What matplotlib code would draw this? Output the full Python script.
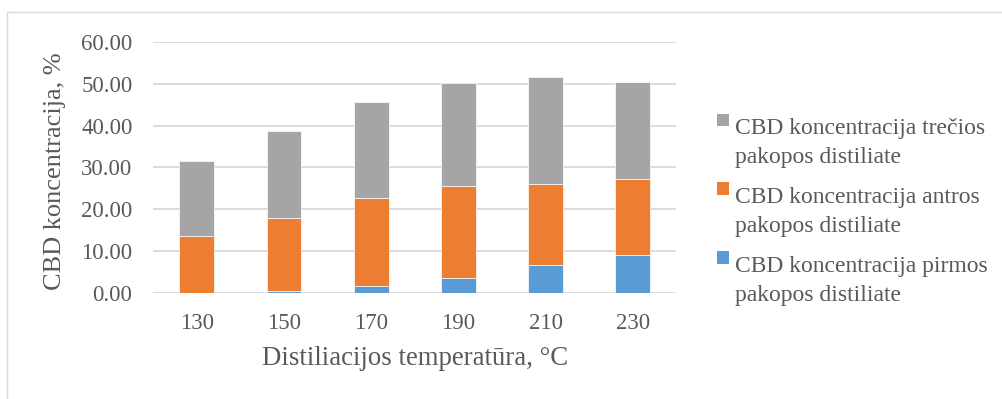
import numpy as np
import matplotlib.pyplot as plt
from matplotlib.patches import Rectangle
from matplotlib.legend_handler import HandlerBase

# duomenys (nuskaityta is paveikslo)
temperatures = ['130', '150', '170', '190', '210', '230']
pirmos = [0.1, 0.55, 1.7, 3.6, 6.8, 9.1]
antros = [13.6, 17.35, 21.0, 22.1, 19.2, 18.1]
trecios = [17.9, 20.7, 22.8, 24.4, 25.5, 23.3]

series_names = ['CBD koncentracija pirmos\npakopos distiliate',
                'CBD koncentracija antros\npakopos distiliate',
                'CBD koncentracija trečios\npakopos distiliate']
colors = ['#5B9BD5', '#ED7D31', '#A5A5A5']
text_col = '#595959'

plt.rcParams['font.family'] = ['Liberation Serif', 'DejaVu Serif']

LEG_FS = 17
LINESP = 1.5


class TopSquare(HandlerBase):
    # kvadratelis prie pirmos teksto eilutes (kaip Excel'yje)
    def create_artists(self, legend, orig_handle, xdescent, ydescent,
                       width, height, fontsize, trans):
        s = 0.52 * fontsize
        step = 0.7 * fontsize * LINESP
        fc = orig_handle.patches[0].get_facecolor()
        r = Rectangle((-xdescent, -ydescent + step + 0.3), s, s,
                      facecolor=fc, edgecolor='none', transform=trans)
        return [r]


fig = plt.figure(figsize=(10.03, 3.99), dpi=100)
ax = fig.add_axes([0.1528, 0.265, 0.5215, 0.6305])

# remelis aplink diagrama
fig.patches.append(Rectangle((7 / 1003, -0.1), 1.2, 1.1 - 12 / 399,
                             transform=fig.transFigure, fill=False,
                             edgecolor='#D9D9D9', linewidth=1.0))

x = np.arange(len(temperatures))
bottom = np.zeros(len(x))
bars = []
for vals, name, c in zip([pirmos, antros, trecios], series_names, colors):
    b = ax.bar(x, vals, width=0.4, bottom=bottom, color=c, label=name,
               edgecolor='white', linewidth=0.5, zorder=3)
    bars.append(b)
    bottom = bottom + np.array(vals)

ax.set_xlim(-0.5, len(x) - 0.5)
ax.set_ylim(0, 60)
ax.set_yticks(np.arange(0, 61, 10))
ax.set_yticklabels([f'{v:.2f}' for v in np.arange(0, 61, 10)])
ax.set_xticks(x)
ax.set_xticklabels(temperatures)
ax.grid(axis='y', color='#D9D9D9', linewidth=1.3, zorder=0)
for s in ax.spines.values():
    s.set_visible(False)
ax.tick_params(length=0, labelsize=16.5, labelcolor=text_col)
ax.tick_params(axis='y', pad=15)
ax.tick_params(axis='x', pad=14)

ax.set_ylabel('CBD koncentracija, %', fontsize=19, color=text_col)
ax.yaxis.set_label_coords(-0.166, 0.486)
ax.set_xlabel('Distiliacijos temperatūra, °C', fontsize=19.3, color=text_col)
ax.xaxis.set_label_coords(0.5, -0.21)

h, l = ax.get_legend_handles_labels()
handler = TopSquare()
leg = ax.legend(h[::-1], l[::-1], loc='upper left',
                bbox_to_anchor=(717 / 1003, 1 - 118 / 399),
                bbox_transform=fig.transFigure, frameon=False,
                fontsize=LEG_FS, handlelength=0.52, handleheight=0.7,
                handletextpad=0.25, labelspacing=0.8, borderaxespad=0,
                borderpad=0, handler_map={b: handler for b in bars})
for t in leg.get_texts():
    t.set_color(text_col)
    t.set_linespacing(LINESP)

fig.savefig('out.png', dpi=100)
